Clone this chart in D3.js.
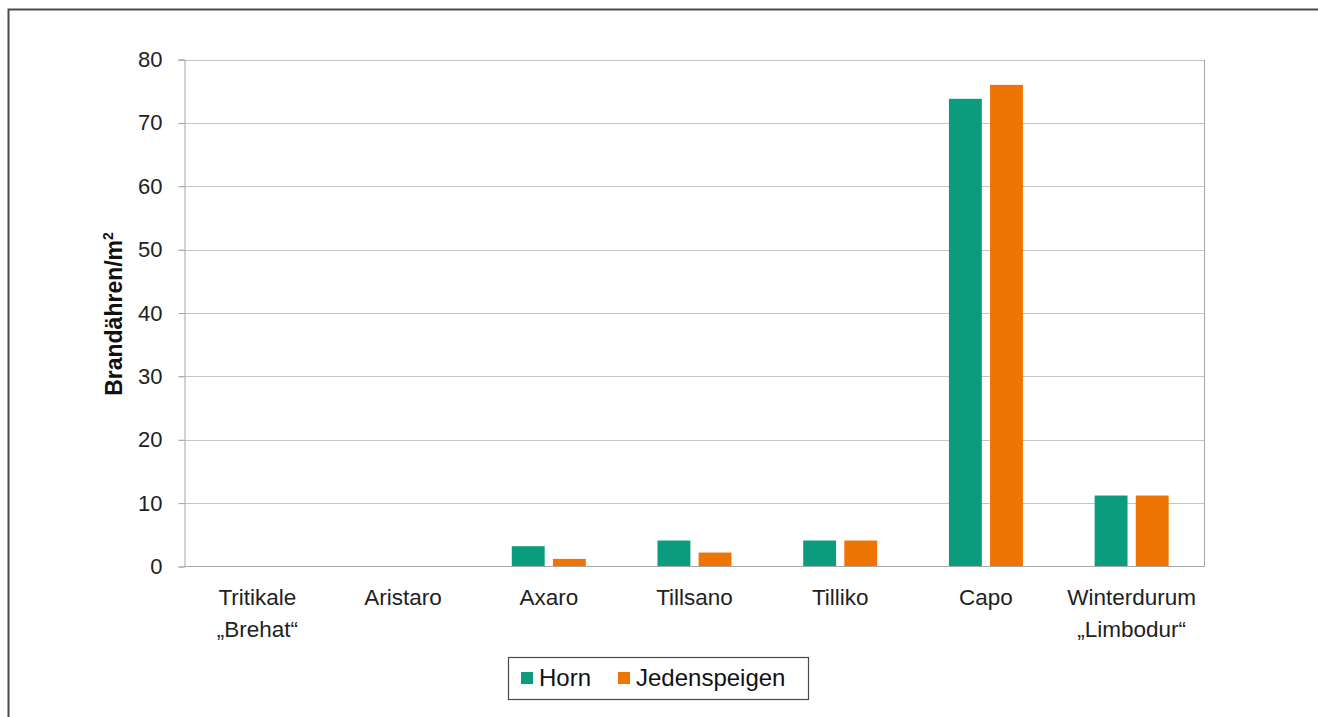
<!DOCTYPE html>
<html><head><meta charset="utf-8">
<script src="https://cdn.jsdelivr.net/npm/d3@7"></script>
<style>body{margin:0;background:#fff}svg{display:block}text{font-family:"Liberation Sans",Arial,Helvetica,sans-serif}</style>
</head><body>
<script>
const categories = [["Tritikale","„Brehat“"],["Aristaro"],["Axaro"],["Tillsano"],["Tilliko"],["Capo"],["Winterdurum","„Limbodur“"]];
const seriesNames = ["Horn","Jedenspeigen"];
const horn = [0,0,3.2,4.1,4.1,73.8,11.2];
const jedenspeigen = [0,0,1.2,2.2,4.1,76.0,11.2];
const yTicks = [0,10,20,30,40,50,60,70,80];
const colors = ["#0a9c7c","#ee7404"];

(function(){
const W=1318,H=717;
const svg=d3.select("body").append("svg").attr("width",W).attr("height",H);
svg.append("path").attr("d",`M8.5,${H+5}V9.5H${W+5}`).attr("fill","none").attr("stroke","#4a4a4a").attr("stroke-width",2);

const pL=184.5,pR=1204.5,pT=59.5,pB=566.5;
const x=d3.scaleBand().domain(d3.range(categories.length)).range([pL,pR]).paddingInner(0).paddingOuter(0);
const y=d3.scaleLinear().domain([0,80]).range([pB,pT]);
const x1=d3.scaleBand().domain([0,1]).range([0,74]).paddingInner(0.2);

svg.append("g").selectAll("line").data(yTicks.filter(d=>d>0)).join("line")
 .attr("x1",pL-6).attr("x2",pR).attr("y1",d=>Math.round(y(d))+0.5).attr("y2",d=>Math.round(y(d))+0.5)
 .attr("stroke","#c4c4c4").attr("stroke-width",1);

const ya=svg.append("g").attr("transform",`translate(${pL},0)`).call(d3.axisLeft(y).tickValues(yTicks).tickSize(6).tickPadding(16));
ya.select(".domain").attr("stroke","#a6a6a6");
ya.selectAll(".tick line").attr("stroke","#a6a6a6");
ya.selectAll(".tick text").attr("font-size",22).attr("fill","#222").attr("font-family","Liberation Sans, Arial, sans-serif");
svg.append("line").attr("x1",pR).attr("x2",pR).attr("y1",pT).attr("y2",pB).attr("stroke","#a6a6a6");
svg.append("line").attr("x1",pL).attr("x2",pR).attr("y1",pB).attr("y2",pB).attr("stroke","#a6a6a6");

const data=[horn,jedenspeigen];
const g=svg.append("g");
categories.forEach((c,i)=>{
  const cx=x(i)+x.bandwidth()/2-37;
  data.forEach((s,j)=>{
    if(s[i]<=0) return;
    g.append("rect").attr("x",cx+x1(j)).attr("width",x1.bandwidth())
     .attr("y",y(s[i])).attr("height",pB-0.5-y(s[i])).attr("fill",colors[j]);
  });
});

const cl=svg.append("g");
categories.forEach((c,i)=>{
  const t=cl.append("text").attr("x",x(i)+x.bandwidth()/2).attr("y",605).attr("text-anchor","middle").attr("font-size",22.5).attr("fill","#222");
  c.forEach((line,k)=>t.append("tspan").attr("x",x(i)+x.bandwidth()/2).attr("dy",k?32:0).text(line));
});

const yl=svg.append("text").attr("transform",`translate(122,${(pT+pB)/2+1}) rotate(-90)`).attr("text-anchor","middle").attr("font-size",23).attr("font-weight","bold").attr("fill","#111");
yl.append("tspan").text("Brandähren/m");
yl.append("tspan").attr("font-size",14).attr("dy",-9).text("2");

const lg=svg.append("g");
lg.append("rect").attr("x",508.5).attr("y",657.5).attr("width",300).attr("height",42).attr("fill","#fff").attr("stroke","#4a4a4a").attr("stroke-width",1.2);
const lx=[521,618];
seriesNames.forEach((n,j)=>{
  lg.append("rect").attr("x",lx[j]).attr("y",672).attr("width",12).attr("height",12).attr("fill",colors[j]);
  lg.append("text").attr("x",lx[j]+18).attr("y",686).attr("font-size",24).attr("fill","#111").text(n);
});
})();
</script>
</body></html>
